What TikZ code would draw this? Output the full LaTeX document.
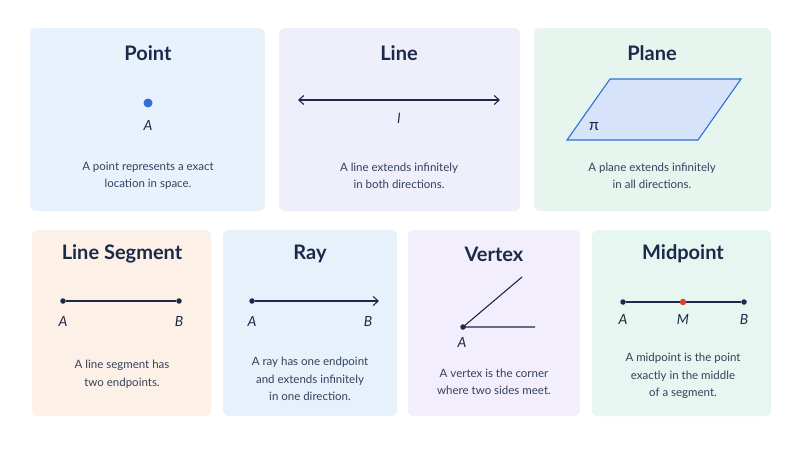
\documentclass[tikz,border=0pt]{standalone}
\usepackage{fontspec}
\setmainfont{Lato}
\usetikzlibrary{arrows.meta}
\definecolor{ink}{HTML}{1B2A4A}
\definecolor{txt}{HTML}{33415C}
\definecolor{cA}{HTML}{E8F2FD}
\definecolor{cB}{HTML}{EFEEFB}
\definecolor{cC}{HTML}{E6F6EF}
\definecolor{cD}{HTML}{FDF1E7}
\definecolor{cE}{HTML}{E6F1FB}
\definecolor{cF}{HTML}{F3EEFB}
\definecolor{cG}{HTML}{E6F6F0}
\definecolor{blu}{HTML}{2F6FD6}
\definecolor{pl}{HTML}{D6E3FA}
\definecolor{red}{HTML}{E53935}
\begin{document}
\begin{tikzpicture}[x=1pt,y=-1pt,
 card/.style={rounded corners=6pt,draw=none},
 ttl/.style={font=\bfseries\fontsize{20}{22}\selectfont,text=ink},
 body/.style={font=\fontsize{11.5}{17.5}\selectfont,text=txt,align=center},
 lab/.style={font=\itshape\fontsize{14}{16}\selectfont,text=ink},
 ln/.style={draw=ink,line width=1.1pt},
 dot/.style={circle,fill=ink,inner sep=0pt,minimum size=5.5pt}]
\useasboundingbox[fill=white] (0,0) rectangle (799,450);
\fill[card,cA] (30,28) rectangle (265,211);
\fill[card,cB] (279,28) rectangle (520,211);
\fill[card,cC] (534,28) rectangle (771,211);
\fill[card,cD] (32,230) rectangle (211,416);
\fill[card,cE] (223,230) rectangle (397,416);
\fill[card,cF] (408,230) rectangle (580,416);
\fill[card,cG] (592,230) rectangle (771,416);
% Point
\node[ttl] (t1) at (148,53) {Point};
\node[circle,fill=blu,inner sep=0pt,minimum size=9pt] (p) at (148,103) {};
\node[lab] (pA) at (148,125) {A};
\node[body] (b1) at (148,176) {A point represents a exact\\location in space.};
% Line
\node[ttl] (t2) at (399,53) {Line};
\coordinate (l1) at (298,100); \coordinate (l2) at (500,100);
\draw[ln,{Straight Barb[length=5pt,width=9pt]}-{Straight Barb[length=5pt,width=9pt]}] (l1) -- (l2);
\node[lab] (ll) at (399,118) {l};
\node[body] (b2) at (399,176) {A line extends infinitely\\in both directions.};
% Plane
\node[ttl] (t3) at (652,53) {Plane};
\draw[draw=blu,fill=pl,line width=1.1pt] (567,140) -- (610,79) -- (741,79) -- (698,140) -- cycle;
\node[lab,font=\fontsize{16}{18}\selectfont] (pi) at (594,127) {π};
\node[body] (b3) at (652,176) {A plane extends infinitely\\in all directions.};
% Segment
\node[ttl] (t4) at (122,254) {Line Segment};
\node[dot] (sA) at (63,301) {}; \node[dot] (sB) at (179,301) {};
\draw[ln] (sA) -- (sB);
\node[lab] at (63,321) {A}; \node[lab] at (179,321) {B};
\node[body] (b4) at (122,374) {A line segment has\\two endpoints.};
% Ray
\node[ttl] (t5) at (310,254) {Ray};
\node[dot] (rA) at (252,301) {}; \coordinate (rE) at (379,301);
\draw[ln,-{Straight Barb[length=5pt,width=9pt]}] (rA) -- (rE);
\node[lab] at (252,321) {A}; \node[lab] at (368,321) {B};
\node[body] (b5) at (310,379) {A ray has one endpoint\\and extends infinitely\\in one direction.};
% Vertex
\node[ttl] (t6) at (494,254) {Vertex};
\node[dot] (vA) at (463,327) {};
\coordinate (v1) at (522,277); \coordinate (v2) at (535,327);
\draw[ln] (v1) -- (vA.center) -- (v2);
\node[lab] at (462,342) {A};
\node[body] (b6) at (494,382) {A vertex is the corner\\where two sides meet.};
% Midpoint
\node[ttl] (t7) at (683,254) {Midpoint};
\node[dot] (mA) at (623,302) {}; \node[dot] (mB) at (744,302) {};
\draw[ln] (mA) -- (mB);
\node[circle,fill=red,inner sep=0pt,minimum size=6.5pt] (mM) at (683,302) {};
\node[lab] at (623,319) {A}; \node[lab] at (683,319) {M}; \node[lab] at (744,319) {B};
\node[body] (b7) at (683,376) {A midpoint is the point\\exactly in the middle\\of a segment.};
\end{tikzpicture}
\end{document}
